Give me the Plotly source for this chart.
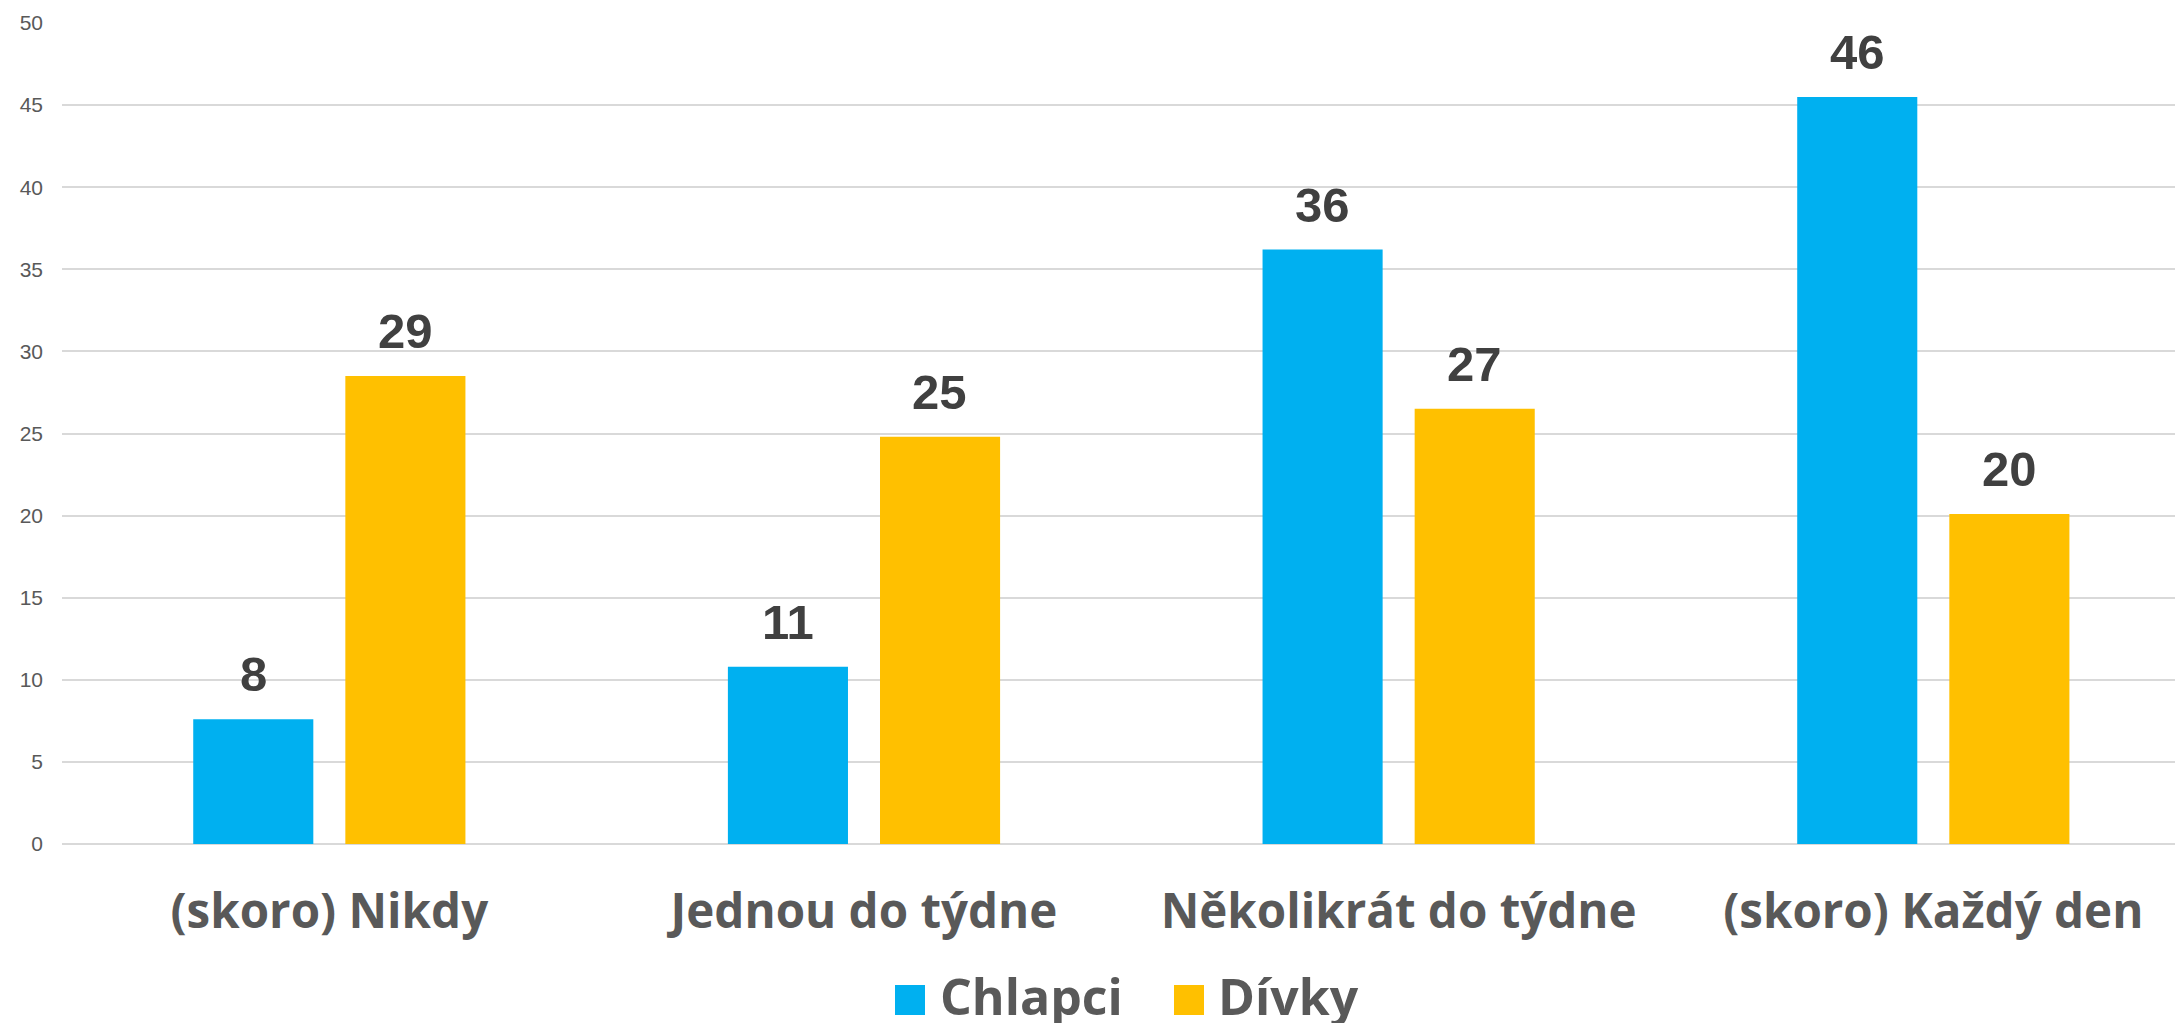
import plotly.graph_objects as go

categories = ["(skoro) Nikdy", "Jednou do týdne", "Několikrát do týdne", "(skoro) Každý den"]
chlapci = [7.6, 10.8, 36.2, 45.5]
divky = [28.5, 24.8, 26.5, 20.1]
chlapci_labels = ["8", "11", "36", "46"]
divky_labels = ["29", "25", "27", "20"]
series_names = ["Chlapci", "Dívky"]
y_ticks = [0, 5, 10, 15, 20, 25, 30, 35, 40, 45, 50]

BLUE = "#00B0F0"
YELLOW = "#FFC000"
OFF = 8  # default page body margin
W, H = 2183 - OFF, 1023 - OFF
ML, MR, MT, MB = 62 - OFF, 0, 23 - OFF, 179
PW = W - ML - MR
PH = H - MT - MB
CAT_FONT = "Open Sans, sans-serif"

fig = go.Figure()
fig.add_trace(go.Bar(x=categories, y=chlapci, name=series_names[0], marker=dict(color=BLUE, line=dict(width=0))))
fig.add_trace(go.Bar(x=categories, y=divky, name=series_names[1], marker=dict(color=YELLOW, line=dict(width=0))))

annotations = []
for vals, labels, shift in [(chlapci, chlapci_labels, -76), (divky, divky_labels, 76)]:
    for c, v, t in zip(categories, vals, labels):
        annotations.append(dict(
            x=c, y=v, text=t, xref="x", yref="y", showarrow=False,
            xanchor="center", yanchor="bottom", xshift=shift, yshift=16,
            font=dict(family="Liberation Sans, Arial, sans-serif", size=49, color="#404040", weight="bold"),
        ))

# page-pixel -> paper conversion for the custom legend
def px_to_paper_x(px):
    return (px - OFF - ML) / PW

def px_to_paper_y(py):
    return (H - MB - (py - OFF)) / PH

shapes = []
legend_items = [(series_names[0], BLUE, 895, 938), (series_names[1], YELLOW, 1174, 1216)]
for name, col, sx, tx in legend_items:
    shapes.append(dict(type="rect", xref="paper", yref="paper",
                       x0=px_to_paper_x(sx), x1=px_to_paper_x(sx + 30),
                       y0=px_to_paper_y(1015), y1=px_to_paper_y(985),
                       fillcolor=col, line=dict(width=0)))
    annotations.append(dict(x=px_to_paper_x(tx), y=px_to_paper_y(996), xref="paper", yref="paper",
                            text=name, showarrow=False, xanchor="left", yanchor="middle",
                            font=dict(family=CAT_FONT, size=50, color="#595959", weight="bold")))

fig.update_layout(
    width=W, height=H, autosize=False,
    margin=dict(l=ML, r=MR, t=MT, b=MB, pad=0),
    paper_bgcolor="white", plot_bgcolor="white",
    barmode="group", bargap=0.431, bargroupgap=0.2105,
    showlegend=False,
    annotations=annotations, shapes=shapes,
    xaxis=dict(range=[-0.5, 3.467], showgrid=False, zeroline=False, showline=False, ticks="",
               tickfont=dict(family=CAT_FONT, size=47.5, color="#595959", weight="bold"),
               ticklabelstandoff=35),
    yaxis=dict(range=[0, 50], tickvals=y_ticks, showgrid=True, gridcolor="#D9D9D9", gridwidth=2,
               zeroline=True, zerolinecolor="#D9D9D9", zerolinewidth=2, showline=False, ticks="",
               tickfont=dict(family="Liberation Sans, Arial, sans-serif", size=21, color="#595959"),
               ticklabelstandoff=18),
)

fig.write_html("out.html")
